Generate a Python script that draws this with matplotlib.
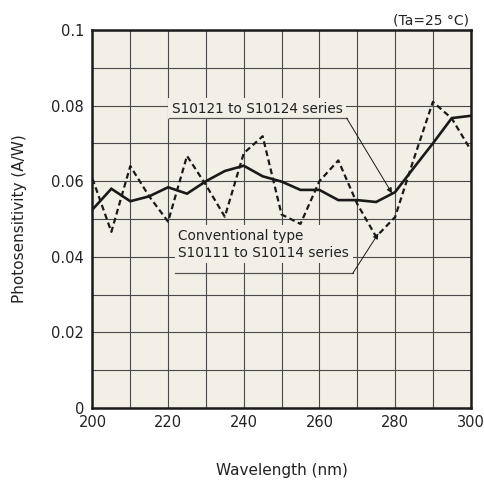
import matplotlib.pyplot as plt
from matplotlib.ticker import MultipleLocator

# Длины волн, нм
wavelength = [200, 205, 210, 215, 220, 225, 230, 235, 240, 245, 250,
              255, 260, 265, 270, 275, 280, 285, 290, 295, 300]

# S10121 to S10124 series (сплошная)
new_series = [0.0525, 0.058, 0.0547, 0.056, 0.0584, 0.0567, 0.060, 0.0627, 0.0641, 0.0613, 0.0599,
              0.0577, 0.0577, 0.055, 0.055, 0.0545, 0.0571, 0.0636, 0.070, 0.0767, 0.0773]

# Conventional type S10111 to S10114 series (пунктир)
old_series = [0.0607, 0.0466, 0.064, 0.056, 0.0493, 0.0667, 0.059, 0.0506, 0.0674, 0.0719, 0.0512,
              0.0487, 0.060, 0.0655, 0.054, 0.0453, 0.0505, 0.066, 0.081, 0.0766, 0.0683]

x_ticks = [200, 220, 240, 260, 280, 300]
y_ticks = [0, 0.02, 0.04, 0.06, 0.08, 0.1]
y_tick_labels = ['0', '0.02', '0.04', '0.06', '0.08', '0.1']

bg = '#f2efe7'
ink = '#1a1a1a'

fig = plt.figure(figsize=(4.84, 4.84), dpi=100)
ax = fig.add_axes([0.191, 0.157, 0.7815, 0.781])
ax.set_facecolor(bg)

ax.plot(wavelength, new_series, color=ink, lw=1.9, zorder=3, solid_joinstyle='miter')
ax.plot(wavelength, old_series, color=ink, lw=1.6, dashes=(2.6, 1.6), zorder=3)

ax.set_xlim(200, 300)
ax.set_ylim(0, 0.1)
ax.set_xticks(x_ticks)
ax.set_yticks(y_ticks)
ax.set_yticklabels(y_tick_labels)
ax.xaxis.set_minor_locator(MultipleLocator(10))
ax.yaxis.set_minor_locator(MultipleLocator(0.01))
ax.grid(True, which='both', color='#4a4a4a', lw=0.8, zorder=1)
ax.set_axisbelow(True)
ax.tick_params(which='both', length=0, labelsize=10.5, colors='#222222')
ax.tick_params(axis='x', pad=5)
ax.tick_params(axis='y', pad=6)
for s in ax.spines.values():
    s.set_linewidth(1.8)
    s.set_color(ink)

ax.set_xlabel('Wavelength (nm)', fontsize=11, color='#222222', va='center')
ax.xaxis.set_label_coords(0.5, -0.164)
ax.set_ylabel('Photosensitivity (A/W)', fontsize=11, color='#222222', va='center')
ax.yaxis.set_label_coords(-0.192, 0.5)

fig.text(0.969, 0.958, '(Ta=25 °C)', ha='right', va='center', fontsize=10, color='#222222')

# Подписи серий
box = dict(facecolor=bg, edgecolor='none', pad=2.5)
ax.text(221.0, 0.0792, 'S10121 to S10124 series', fontsize=9.8, va='center', ha='left',
        color='#222222', bbox=box, zorder=4)
ax.plot([220.2, 267.2], [0.0767, 0.0767], color='#555555', lw=0.9, zorder=5)
ax.annotate('', xy=(279.2, 0.0568), xytext=(267.2, 0.0767),
            arrowprops=dict(arrowstyle='-|>', lw=0.7, color=ink, mutation_scale=8,
                            shrinkA=0, shrinkB=0), zorder=5)

ax.text(222.7, 0.0433, 'Conventional type\nS10111 to S10114 series', fontsize=9.8, va='center',
        ha='left', color='#222222', linespacing=1.25, bbox=box, zorder=4)
ax.plot([221.8, 268.8], [0.0356, 0.0356], color='#555555', lw=0.9, zorder=5)
ax.annotate('', xy=(275.6, 0.0462), xytext=(268.8, 0.0356),
            arrowprops=dict(arrowstyle='-|>', lw=0.7, color=ink, mutation_scale=8,
                            shrinkA=0, shrinkB=0), zorder=5)

fig.savefig('out.png', dpi=100)
